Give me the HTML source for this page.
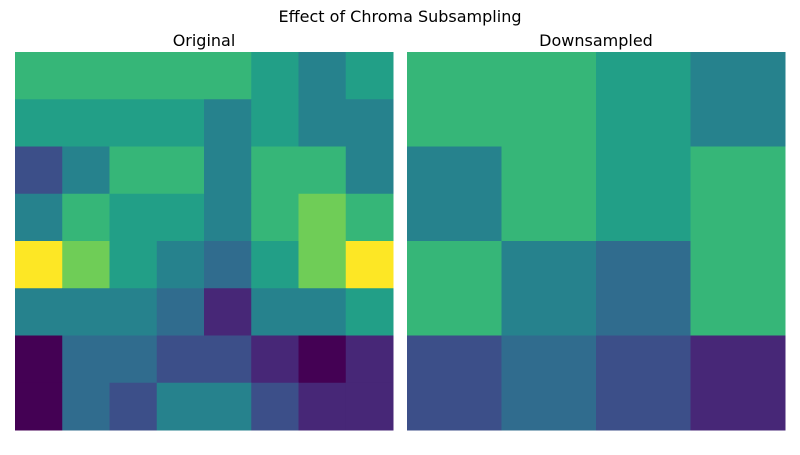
<!DOCTYPE html>
<html><head><meta charset="utf-8"><style>
html,body{margin:0;padding:0;background:#fff;}
body{width:800px;height:450px;overflow:hidden;font-family:"Liberation Sans","DejaVu Sans",sans-serif;}
</style></head><body>
<svg id="chart" width="800" height="450" xmlns="http://www.w3.org/2000/svg">
<rect width="800" height="450" fill="#fff"/>
<text x="400" y="22" text-anchor="middle" font-size="16" fill="#000" font-family="DejaVu Sans, sans-serif">Effect of Chroma Subsampling</text>
<text x="204" y="46" text-anchor="middle" font-size="16" fill="#000" font-family="DejaVu Sans, sans-serif">Original</text>
<text x="596" y="46" text-anchor="middle" font-size="16" fill="#000" font-family="DejaVu Sans, sans-serif">Downsampled</text>
<g id="left"></g>
<g id="right"></g>
</svg>
<script>
const originalValues = [
 [0.66,0.66,0.66,0.66,0.66,0.56,0.44,0.56],
 [0.56,0.56,0.56,0.56,0.44,0.56,0.44,0.44],
 [0.24,0.44,0.66,0.66,0.44,0.66,0.66,0.44],
 [0.44,0.66,0.56,0.56,0.44,0.66,0.78,0.66],
 [1.00,0.78,0.56,0.44,0.35,0.56,0.78,1.00],
 [0.44,0.44,0.44,0.35,0.11,0.44,0.44,0.56],
 [0.00,0.35,0.35,0.24,0.24,0.11,0.00,0.11],
 [0.00,0.35,0.24,0.44,0.44,0.24,0.11,0.11]
];
const downsampledValues = [
 [0.66,0.66,0.56,0.44],
 [0.44,0.66,0.56,0.66],
 [0.66,0.44,0.35,0.66],
 [0.24,0.35,0.24,0.11]
];
const viridisStops = ["#440154","#482475","#414487","#355f8d","#2a788e","#21918c","#22a884","#44bf70","#7ad151","#bddf26","#fde725"];
function hex(c){return [1,3,5].map(i=>parseInt(c.substr(i,2),16));}
function viridis(v){
  v=Math.max(0,Math.min(1,v));
  const p=v*10, i=Math.min(9,Math.floor(p)), t=p-i;
  const a=hex(viridisStops[i]), b=hex(viridisStops[i+1]);
  return "rgb("+a.map((x,k)=>Math.round(x+(b[k]-x)*t)).join(",")+")";
}
const NS="http://www.w3.org/2000/svg";
function draw(gid, data, x0, y0, size, prefix){
  const g=document.getElementById(gid);
  const n=data.length, c=size/n;
  data.forEach((row,r)=>row.forEach((v,col)=>{
    const el=document.createElementNS(NS,"rect");
    el.setAttribute("x",x0+col*c);
    el.setAttribute("y",y0+r*c);
    el.setAttribute("width",c+0.5);
    el.setAttribute("height",c+0.5);
    el.setAttribute("fill",viridis(v));
    
    
    g.appendChild(el);
  }));
}
draw("left",originalValues,15,52,378,"original");
draw("right",downsampledValues,407,52,378,"downsampled");
</script>
</body></html>
